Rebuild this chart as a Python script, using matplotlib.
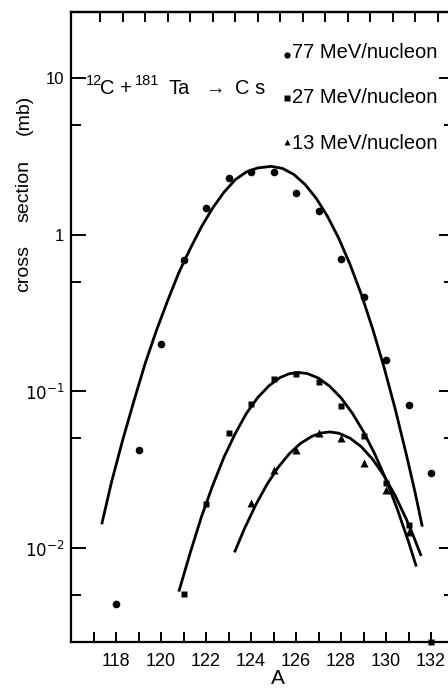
import matplotlib
matplotlib.use('Agg')
import matplotlib.pyplot as plt
from matplotlib.ticker import FixedLocator, NullFormatter

plt.rcParams['font.family'] = ['Liberation Sans Narrow', 'Liberation Sans', 'DejaVu Sans']
plt.rcParams['mathtext.fontset'] = 'custom'
plt.rcParams['mathtext.rm'] = 'Liberation Sans Narrow'
plt.rcParams['mathtext.it'] = 'Liberation Sans Narrow'

# ---------------- data ----------------
A77 = [118, 119, 120, 121, 122, 123, 124, 125, 126, 127, 128, 129, 130, 131, 132]
s77 = [0.0044, 0.042, 0.201, 0.69, 1.47, 2.31, 2.52, 2.49, 1.83, 1.42, 0.70, 0.40, 0.159, 0.082, 0.030]

A27 = [121, 122, 123, 124, 125, 126, 127, 128, 129, 130, 131, 132]
s27 = [0.0051, 0.019, 0.054, 0.083, 0.12, 0.128, 0.114, 0.080, 0.052, 0.026, 0.014, 0.0025]

A13 = [124, 125, 126, 127, 128, 129, 130, 131]
s13 = [0.0195, 0.0316, 0.042, 0.054, 0.050, 0.035, 0.0235, 0.0127]

# fitted curves, points
cA77 = [117.38, 117.8, 118.3, 118.8, 119.3, 119.8, 120.3, 120.8, 121.3, 121.8, 122.3, 122.8,
        123.3, 123.8, 124.3, 124.9, 125.4, 125.9, 126.4, 126.9, 127.4, 127.9, 128.4, 128.9,
        129.4, 129.9, 130.4, 130.9, 131.3, 131.6]
cs77 = [0.01445, 0.0263, 0.0490, 0.0871, 0.151, 0.245, 0.380, 0.575, 0.813, 1.122, 1.479, 1.862,
        2.239, 2.512, 2.661, 2.723, 2.642, 2.421, 2.089, 1.702, 1.306, 0.946, 0.646, 0.416,
        0.252, 0.1445, 0.078, 0.0397, 0.0224, 0.01396]

cA27 = [120.81, 121.3, 121.8, 122.3, 122.8, 123.3, 123.8, 124.3, 124.8, 125.3, 125.7, 126.1,
        126.5, 127.0, 127.5, 128.0, 128.5, 129.0, 129.5, 130.0, 130.5, 131.0, 131.33]
cs27 = [0.00537, 0.00933, 0.01585, 0.0251, 0.0380, 0.0537, 0.0724, 0.0912, 0.1084, 0.1225,
        0.1294, 0.1318, 0.1297, 0.1213, 0.1076, 0.0908, 0.0726, 0.0552, 0.0398, 0.0273,
        0.01774, 0.01096, 0.00776]

cA13 = [123.29, 123.7, 124.2, 124.7, 125.2, 125.7, 126.2, 126.7, 127.1, 127.5, 127.9, 128.4,
        128.9, 129.4, 129.9, 130.4, 130.9, 131.2, 131.54]
cs13 = [0.00955, 0.01318, 0.01871, 0.0253, 0.0326, 0.0399, 0.0465, 0.0515, 0.0541, 0.0550,
        0.0540, 0.0502, 0.0443, 0.0369, 0.0291, 0.0217, 0.0153, 0.0121, 0.00906]

xticks_major = [118, 120, 122, 124, 126, 128, 130, 132]
xticks_minor = [117, 119, 121, 123, 125, 127, 129, 131]
yticks_major = [10, 1, 0.1, 0.01]
ytick_labels = ['10', '1', r'$10^{-1}$', r'$10^{-2}$']
yticks_minor = [5, 0.5, 0.05, 0.005]
top_ticks = list(range(117, 133))

legend_labels = ['77 MeV/nucleon', '27 MeV/nucleon', '13 MeV/nucleon']

# ---------------- figure ----------------
W, H = 448, 689
fig = plt.figure(figsize=(W / 100, H / 100), dpi=100)
L, R, T, B = 71, 453.5, 12, 642
ax = fig.add_axes([L / W, 1 - B / H, (R - L) / W, (B - T) / H])
ax.set_yscale('log')
ax.set_xlim(116, 133)
ax.set_ylim(10 ** -2.60, 10 ** 1.42)

k = 'black'
ax.plot(cA77, cs77, color=k, lw=2.0)
ax.plot(cA27, cs27, color=k, lw=2.0)
ax.plot(cA13, cs13, color=k, lw=2.0)
ax.plot(A77, s77, 'o', color=k, ms=5.5, mec='none', clip_on=False)
ax.plot(A27, s27, 's', color=k, ms=5.0, mec='none', clip_on=False)
ax.plot(A13, s13, '^', color=k, ms=5.5, mec='none', clip_on=False)

for sp in ax.spines.values():
    sp.set_linewidth(1.6)

ax.xaxis.set_major_locator(FixedLocator(xticks_major))
ax.xaxis.set_minor_locator(FixedLocator(xticks_minor))
ax.set_xticklabels([str(v) for v in xticks_major])
ax.yaxis.set_major_locator(FixedLocator(yticks_major))
ax.yaxis.set_minor_locator(FixedLocator(yticks_minor))
ax.yaxis.set_minor_formatter(NullFormatter())
ax.set_yticklabels(ytick_labels)

ax.tick_params(which='both', direction='in', top=False, right=True, width=1.4, color=k)
ax.tick_params(axis='x', which='both', length=7.2, pad=8, labelsize=13)
ax.tick_params(axis='y', which='major', length=10.8, pad=5, labelsize=12)
ax.tick_params(axis='y', which='minor', length=7.2)

sec = ax.secondary_xaxis('top', functions=(lambda x: x - 0.3, lambda x: x + 0.3))
sec.set_xticks(top_ticks)
sec.tick_params(direction='in', length=7.2, width=1.4, labeltop=False)
sec.spines['top'].set_linewidth(1.6)


def fx(x):
    return x / W


def fy(y):
    return 1 - y / H


sans = ['Liberation Sans', 'DejaVu Sans']

# legend (text + marker)
mk = ['o', 's', '^']
ms = [4.5, 4.5, 4.5]
ly = [58, 103, 149]
my = [55, 98, 142]
for lab, m, s, yb, ym in zip(legend_labels, mk, ms, ly, my):
    fig.text(fx(292), fy(yb), lab, ha='left', va='baseline', fontsize=14.5, family=sans)
    ax.plot([fx(287)], [fy(ym)], m, color=k, ms=s, mec='none',
            transform=fig.transFigure, clip_on=False)

# reaction label
fig.text(fx(86), fy(85), '12', fontsize=10.5, va='baseline', ha='left')
fig.text(fx(100), fy(94), 'C +', fontsize=14.5, va='baseline', ha='left', family=sans)
fig.text(fx(135), fy(85), '181', fontsize=10.5, va='baseline', ha='left')
fig.text(fx(168), fy(94), 'Ta', fontsize=14.5, va='baseline', ha='left', family=sans)
fig.text(fx(205), fy(94), '\u2192', fontsize=14, va='baseline', ha='left', family=sans)
fig.text(fx(235), fy(94), 'C s', fontsize=14.5, va='baseline', ha='left', family=sans)

# axis labels
for word, yc in [('cross', 268), ('section', 191), ('(mb)', 115)]:
    fig.text(fx(24), fy(yc), word, rotation=90, ha='center', va='center', fontsize=14,
             family=sans)
fig.text(fx(278), fy(688), 'A', ha='center', va='bottom', fontsize=15, family=sans)

fig.savefig('out.png', dpi=100)
